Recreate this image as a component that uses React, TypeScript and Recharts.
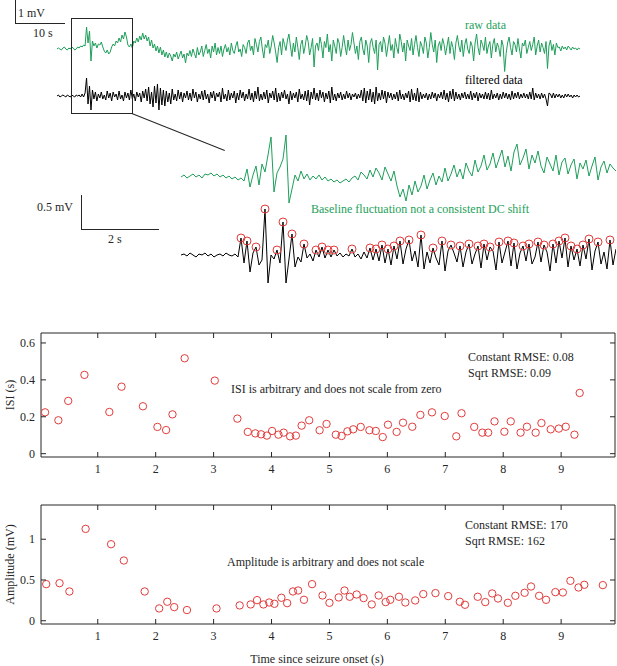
import React from "react";
import {
  ComposedChart,
  Line,
  ReferenceArea,
  Scatter,
  ScatterChart,
  XAxis,
  YAxis,
} from "recharts";

const FONT = "'Liberation Serif', 'Times New Roman', serif";
const INK = "#262626";
const GREEN = "#1e9f5a";
const RED = "#e23c3c";

// whole recording, one sample every 0.3 s, values in µV
const overviewStep = 0.3;
const rawOverview = [
  0, 50, 0, -50, 50, 100, 0, -50, 50, 0, 100, 50, -50, 0, 100, 50, 150, 100, 200, 150,
  1100, 300, 900, -600, 400, 150, 300, 50, 250, 200,
  350, 100, -100, -200, -50, -250, -150, 100, 250, 150,
  400, 300, 550, 350, 700, 500, 850, 600, 200, 100,
  250, 50, 400, 300, 550, 350, 650, 450, 800, 500,
  700, 400, 600, 150, 450, 50, 250, -100, 150, -200,
  100, -300, -50, -400, -150, -450, -200, -350, -600, -250,
  -400, -150, -500, -300, -100, -450, -250, -700, -200, -350,
  -75, -375, 0, -225, -450, 75, -300, -150, 150, -375,
  -75, 225, -225, 0, -450, 150, -150, 300, -300, 75,
  -225, 150, -375, 0, 225, -150, 75, -300, 300, -75,
  -225, 150, 375, -150, 0, -375, 225, 75, -225, 300,
  450, -75, 150, -300, 525, 225, -150, 375, 600, 0,
  -450, 225, 75, 450, -225, 150, 675, 300, -150, -675,
  75, 375, -300, 525, 225, -75, 450, 750, 150, -375,
  300, -150, 600, 75, -525, 225, 450, -225, 150, 675,
  375, -300, 75, 525, -900, 150, 300, -75, 600, 225,
  -450, 375, 75, 750, -150, 225, -600, 450, 150, -225,
  525, 300, -375, 75, 675, 150, -300, 450, -75, 225,
  825, 300, -225, 150, -525, 375, 600, 0, -300, 450,
  150, -675, 300, 525, 75, -225, 450, -1050, 225, 375,
  -150, 600, 300, -375, 150, 675, -75, 225, -450, 525,
  75, -225, 750, 375, -150, 300, -600, 450, 150, -75,
  525, -300, 225, 675, 75, -375, 375, 150, -225, 600,
  300, -450, 75, 825, 225, -150, 450, -675, 150, 375,
  -75, 525, 225, -300, 150, 600, -225, 375, 75, -525,
  300, 675, 150, -150, 450, -375, 225, 525, 0, -225,
  375, 150, -600, 300, 750, 75, -300, 450, 225, -75,
  600, -225, 150, 375, -450, 225, 525, -150, 300, 75,
  -375, 450, 150, -1125, -225, 300, 600, 75, -300, 375,
  225, -150, 525, 0, -450, 300, 150, 450, -225, 75,
  375, -75, 225, 600, -300, 150, 450, -150, 300, 75,
  -225, 375, -975, 150, 450, -75, 225, -300, 300, 75,
  100, -100, 150, 0, 100, -50, 150, 50, -50, 100,
  0, 50, -50, 50, 0,
];
const filteredOverview = [
  0, 50, -50, 0, 50, 0, -50, 50, 0, -50, 50, 0, -50, 50, 0, 50, -50, 100, -50, 150,
  900, -400, 500, -700, 300, -150, 200, -250, 100, -100,
  200, -150, 50, -200, 250, -100, 150, -250, 200, -50,
  100, -200, 250, -150, 50, -250, 200, -100, 150, -200,
  300, -150, 100, -250, 200, -50, 150, -300, 250, -100,
  350, -250, 450, -400, 200, -550, 500, -350, 600, -700,
  400, -450, 300, -500, 250, -300, 150, -400, 350, -200,
  100, -250, 300, -150, 200, -300, 150, -100, 250, -200,
  150, -250, 350, -100, 200, -300, 100, -150, 250, -200,
  300, -150, 100, -350, 200, -100, 250, -250, 150, -50,
  200, -300, 400, -150, 100, -250, 300, -200, 150, -100,
  250, -350, 150, -200, 300, -100, 200, -250, 100, -150,
  350, -200, 150, -300, 250, -150, 450, -250, 100, -200,
  200, -150, 300, -350, 150, -100, 250, -200, 400, -300,
  150, -250, 200, -100, 300, -150, 100, -400, 250, -200,
  150, -100, 200, -300, 350, -150, 100, -200, 250, -250,
  300, -450, 200, -150, 400, -200, 150, -250, 300, -100,
  200, -300, 150, -150, 250, -350, 450, -200, 100, -250,
  150, -100, 200, -200, 100, -150, 250, -100, 150, -200,
  100, -50, 150, -150, 100, -100, 300, -250, 400, -350,
  250, -200, 350, -300, 200, -400, 450, -250, 150, -200,
  300, -150, 250, -350, 200, -100, 150, -200, 100, -150,
  200, -250, 300, -150, 100, -200, 150, -100, 250, -300,
  350, -200, 150, -250, 400, -300, 200, -150, 100, -100,
  150, -200, 100, -150, 200, -100, 150, -250, 100, -100,
  200, -150, 300, -200, 150, -300, 250, -150, 350, -250,
  200, -150, 100, -200, 150, -100, 200, -150, 100, -150,
  250, -200, 150, -100, 200, -250, 150, -100, 100, -150,
  200, -150, 150, -200, 300, -150, 100, -100, 150, -200,
  100, -150, 200, -100, 150, -150, 100, -200, 250, -150,
  150, -100, 200, -150, 100, -100, 150, -100, 100, -150,
  200, -150, 400, -200, 150, -100, 100, -150, 150, -100,
  100, -150, -500, 150, 100, -100, 150, -100, 100, -50,
  100, -100, 50, -100, 100, -50, 100, -50, 50, -100,
  50, -50, 50, -50, 0,
];

// zoomed window, one sample every 0.078 s, values in µV
const zoomStep = 0.078;
const rawZoom = [
  0, 30, -15, 15, 45, 0, 30, -15, 45, 30, 60, 15, 45, 0, 30, -15, 15, -30, 0, -45, -15, -60,
  120, -150, 30, 165, -120, 195, 75, 330, 600, -225, 60, 150, 270, 630, -390, -180,
  30, -60, 90, -30, 45, -45, 15, -30, 30, -45, 0, -60, -30, -75, -45, -90, -60, -30, -75, -15,
  15, -45, 75, 30, -30, 105, 0, 135, 60, -45, 150, 45, -60, 90, -135,
  -300, -180, -360, -120, -270,
  -60, -225, -135, 30, -180, -45, 60, -120, 15, -75,
  135, -60, 45, 180, 0, 120, -30, 210, 90, 15, 255, 75, 165, 330, 105, 195,
  360, 135, 270, 405, 150, 315, 90, 375, 495, 180, 285, 420, 120, 330, 210, 390, 165,
  60, 300, 195, 90, 330, 30, 225, 285, 45, 180, 270, -30, 210, 120, 255, 15, 165, 300, -45, 150,
  240, 60, 195, 135, 90,
];
const filteredZoom = [
  0, 15, -15, 30, 0, -30, 15, 0, 30, -15, 15, -30, 0, 15, -15, 30, 0, -15, 15, -30,
  255, -120, 210, -255, 30, 120, -150, -75, 690, -420, 0, -60, 75, -120, 495, -420, -60, 315, -180, -30,
  -105, 165, -45, 15, -90, 75, -30, 120, -45, 75, -30, 75, -15, 30, -30, 15, -15, 90, -30, 15,
  -60, 45, -45, 105, -75, 90, -90, 150, -120, 90, -150, 135, -60,
  210, -135, 90, 225, -90, 60, -180, 300, -210, 45, -120, 105, -45, -150, 210, -240, 60, 150, 30, -105,
  135, -180, 45, 165, -135, 15, 135, -195, 165, -75, 120, 60, -225, 195, -120, 45, 210, -165, 180, -210,
  30, 135, -90, 165, -135, -30, 195, -105, 150, 45, -240, 165, -120, 210, -45, 255, -180, 135, -75, 90,
  -165, 150, -60, 240, -225, 60, 195, -135, 45, -210, 225, -150, 90,
];
const spikeThreshold = 75; // µV, local maxima above this are marked

// detected spikes (s since onset)
const isiTimes = [
  0.09, 0.32, 0.49, 0.77, 1.2, 1.41, 1.78, 2.03, 2.18, 2.29, 2.5, 3.02, 3.41, 3.59, 3.72, 3.82, 3.92, 4.01,
  4.12, 4.21, 4.32, 4.42, 4.52, 4.65, 4.83, 4.95, 5.11, 5.21, 5.31, 5.41, 5.54, 5.69, 5.8, 5.92, 6.01, 6.16,
  6.27, 6.43, 6.57, 6.77, 6.99, 7.19, 7.28, 7.5, 7.64, 7.74, 7.85, 8.02, 8.13, 8.3, 8.41, 8.56, 8.66, 8.82,
  8.96, 9.08, 9.23, 9.32,
];
const isiValues = [
  0.224, 0.181, 0.286, 0.427, 0.226, 0.363, 0.257, 0.145, 0.128, 0.213, 0.517, 0.396, 0.19, 0.118, 0.11,
  0.105, 0.098, 0.123, 0.103, 0.114, 0.094, 0.098, 0.152, 0.181, 0.127, 0.161, 0.103, 0.096, 0.121, 0.132,
  0.145, 0.127, 0.123, 0.09, 0.157, 0.118, 0.168, 0.146, 0.21, 0.224, 0.204, 0.094, 0.219, 0.145, 0.114,
  0.114, 0.175, 0.119, 0.175, 0.114, 0.146, 0.114, 0.166, 0.132, 0.136, 0.146, 0.103, 0.329,
];
const ampTimes = [
  0.11, 0.34, 0.51, 0.79, 1.23, 1.45, 1.81, 2.06, 2.2, 2.32, 2.54, 3.05, 3.45, 3.64, 3.75, 3.86, 3.96, 4.05,
  4.17, 4.27, 4.37, 4.46, 4.56, 4.7, 4.88, 5.0, 5.16, 5.26, 5.35, 5.47, 5.59, 5.73, 5.85, 5.97, 6.05, 6.2,
  6.31, 6.48, 6.62, 6.83, 7.05, 7.25, 7.34, 7.56, 7.69, 7.81, 7.91, 8.08, 8.21, 8.37, 8.48, 8.62, 8.74, 8.9,
  9.03, 9.16, 9.3, 9.4, 9.72,
];
const ampValues = [
  0.449, 0.461, 0.359, 1.127, 0.939, 0.739, 0.359, 0.151, 0.233, 0.167, 0.131, 0.151, 0.188, 0.2, 0.253,
  0.2, 0.224, 0.208, 0.282, 0.216, 0.359, 0.371, 0.257, 0.449, 0.31, 0.22, 0.286, 0.371, 0.294, 0.322,
  0.278, 0.2, 0.31, 0.229, 0.257, 0.294, 0.224, 0.249, 0.327, 0.339, 0.302, 0.233, 0.196, 0.294, 0.229,
  0.335, 0.273, 0.22, 0.306, 0.343, 0.42, 0.306, 0.257, 0.351, 0.347, 0.49, 0.408, 0.441, 0.437,
];

const timeTicks = [1, 2, 3, 4, 5, 6, 7, 8, 9];
const timeDomain = [0.02, 9.93];
const isiTicks = [0, 0.2, 0.4, 0.6];
const isiDomain = [-0.018, 0.654];
const ampTicks = [0, 0.5, 1];
const ampDomain = [-0.04, 1.42];

const Note = ({ x, y, color = INK, size = 12, children }: any) => (
  <div
    style={{
      position: "absolute",
      left: x,
      top: y - 7,
      fontSize: size,
      lineHeight: "14px",
      color,
      whiteSpace: "nowrap",
      fontFamily: FONT,
    }}
  >
    {children}
  </div>
);

const ring = (r: number) => (p: any) =>
  <circle cx={p.cx} cy={p.cy} r={r} fill="none" stroke={RED} strokeWidth={1} />;
const nothing = () => <g />;

const Trace = ({ values, step, color, left, top, width, height, range, threshold }: any) => {
  const data = values.map((v: number, i: number) => ({ t: i * step, v }));
  const peaks =
    threshold === undefined
      ? []
      : data.filter(
          (d: any, i: number) =>
            i > 0 && i < data.length - 1 && d.v >= threshold && d.v > data[i - 1].v && d.v >= data[i + 1].v
        );
  return (
    <div style={{ position: "absolute", left, top }}>
      <ComposedChart width={width} height={height} data={data} margin={{ top: 0, right: 0, bottom: 0, left: 0 }}>
        <XAxis dataKey="t" type="number" domain={[0, (values.length - 1) * step]} hide />
        <YAxis type="number" domain={[-range, range]} hide allowDataOverflow />
        <Line
          dataKey="v"
          type="linear"
          stroke={color}
          strokeWidth={1}
          dot={false}
          isAnimationActive={false}
        />
        {threshold !== undefined && (
          <Scatter data={peaks} dataKey="v" shape={ring(4)} isAnimationActive={false} />
        )}
      </ComposedChart>
    </div>
  );
};

const bottomTick = (p: any) => (
  <g>
    <line x1={p.x} y1={p.y} x2={p.x} y2={p.y - 5} stroke={INK} />
    <text x={p.x} y={p.y + 16} textAnchor="middle" fill={INK} fontSize={12} fontFamily={FONT}>
      {p.payload.value}
    </text>
  </g>
);
const topTick = (p: any) => <line x1={p.x} y1={p.y} x2={p.x} y2={p.y + 5} stroke={INK} />;
const leftTick = (p: any) => (
  <g>
    <line x1={p.x} y1={p.y} x2={p.x + 5} y2={p.y} stroke={INK} />
    <text x={p.x - 6} y={p.y + 4} textAnchor="end" fill={INK} fontSize={12} fontFamily={FONT}>
      {p.payload.value}
    </text>
  </g>
);
const rightTick = (p: any) => <line x1={p.x} y1={p.y} x2={p.x - 5} y2={p.y} stroke={INK} />;

const yTitle = (text: string) => (p: any) => {
  const vb = p.viewBox;
  const cx = vb.x + 10;
  const cy = vb.y + vb.height / 2;
  return (
    <text
      x={cx}
      y={cy}
      transform={`rotate(-90 ${cx} ${cy})`}
      textAnchor="middle"
      dominantBaseline="central"
      fill={INK}
      fontSize={12}
      fontFamily={FONT}
    >
      {text}
    </text>
  );
};

const SpikePanel = ({ top, height, marginTop, xAxisHeight, times, values, domain, ticks, yLabel, xLabel }: any) => {
  const points = times.map((t: number, i: number) => ({ x: t, y: values[i] }));
  const axisProps = { tickLine: false, tickSize: 0, tickMargin: 0, allowDataOverflow: true };
  return (
    <div style={{ position: "absolute", left: 0, top }}>
      <ScatterChart width={617} height={height} margin={{ top: marginTop - 1, right: 1, bottom: 0, left: 0 }}>
        <XAxis
          {...axisProps}
          axisLine={false}
          dataKey="x"
          type="number"
          domain={timeDomain}
          ticks={timeTicks}
          height={xAxisHeight}
          tick={bottomTick}
          label={
            xLabel
              ? {
                  content: (p: any) => (
                    <text
                      x={p.viewBox.x + p.viewBox.width / 2 - 11}
                      y={p.viewBox.y + 39}
                      textAnchor="middle"
                      fill={INK}
                      fontSize={12}
                      fontFamily={FONT}
                    >
                      {xLabel}
                    </text>
                  ),
                }
              : undefined
          }
        />
        <XAxis
          {...axisProps}
          axisLine={false}
          xAxisId="top"
          orientation="top"
          dataKey="x"
          type="number"
          domain={timeDomain}
          ticks={timeTicks}
          height={1}
          tick={topTick}
        />
        <YAxis
          {...axisProps}
          axisLine={false}
          dataKey="y"
          type="number"
          domain={domain}
          ticks={ticks}
          width={41}
          tick={leftTick}
          label={{ content: yTitle(yLabel) }}
        />
        <YAxis
          {...axisProps}
          axisLine={false}
          yAxisId="right"
          orientation="right"
          dataKey="y"
          type="number"
          domain={domain}
          ticks={ticks}
          width={1}
          tick={rightTick}
        />
        <ReferenceArea
          x1={timeDomain[0]}
          x2={timeDomain[1]}
          y1={domain[0]}
          y2={domain[1]}
          fill="none"
          stroke={INK}
          strokeWidth={1}
          ifOverflow="visible"
        />
        <Scatter data={points} shape={ring(3.7)} isAnimationActive={false} />
        <Scatter data={points} xAxisId="top" yAxisId="right" shape={nothing} isAnimationActive={false} />
      </ScatterChart>
    </div>
  );
};

export default function App() {
  return (
    <div
      style={{
        position: "absolute",
        left: 0,
        top: 0,
        width: 617,
        height: 666,
        background: "#fff",
        overflow: "hidden",
        fontFamily: FONT,
      }}
    >
      {/* overview scale bar */}
      <div style={{ position: "absolute", left: 15, top: 0, width: 49, height: 23, borderLeft: `1.5px solid ${INK}`, borderBottom: `1.5px solid ${INK}` }} />
      <Note x={18} y={13}>1 mV</Note>
      <Note x={33} y={33}>10 s</Note>

      <Trace values={rawOverview} step={overviewStep} color={GREEN} left={57} top={9} width={523} height={80} range={2000} />
      <Trace values={filteredOverview} step={overviewStep} color="#000" left={57} top={56} width={523} height={80} range={2000} />
      <Note x={465} y={25} color={GREEN}>raw data</Note>
      <Note x={465} y={80} color="#000">filtered data</Note>

      {/* zoom box and connector */}
      <div style={{ position: "absolute", left: 71, top: 18, width: 60, height: 94, border: `1.5px solid ${INK}` }} />
      <div
        style={{
          position: "absolute",
          left: 132,
          top: 113,
          width: 100,
          height: 0,
          borderTop: `1.5px solid ${INK}`,
          transform: "rotate(21.7deg)",
          transformOrigin: "0 0",
        }}
      />

      {/* zoom scale bar */}
      <div style={{ position: "absolute", left: 81, top: 195, width: 77, height: 34, borderLeft: `1.5px solid ${INK}`, borderBottom: `1.5px solid ${INK}` }} />
      <Note x={37} y={207}>0.5 mV</Note>
      <Note x={108} y={239}>2 s</Note>

      <Trace values={rawZoom} step={zoomStep} color={GREEN} left={181} top={117} width={435} height={120} range={900} />
      <Trace values={filteredZoom} step={zoomStep} color="#000" left={181} top={195} width={435} height={120} range={900} threshold={spikeThreshold} />
      <Note x={311} y={209} color={GREEN}>Baseline fluctuation not a consistent DC shift</Note>

      <SpikePanel
        top={320}
        height={160}
        marginTop={13}
        xAxisHeight={23}
        times={isiTimes}
        values={isiValues}
        domain={isiDomain}
        ticks={isiTicks}
        yLabel="ISI (s)"
      />
      <Note x={468} y={357}>Constant RMSE: 0.08</Note>
      <Note x={468} y={373}>Sqrt RMSE: 0.09</Note>
      <Note x={231} y={389}>ISI is arbitrary and does not scale from zero</Note>

      <SpikePanel
        top={490}
        height={176}
        marginTop={15}
        xAxisHeight={42}
        times={ampTimes}
        values={ampValues}
        domain={ampDomain}
        ticks={ampTicks}
        yLabel="Amplitude (mV)"
        xLabel="Time since seizure onset (s)"
      />
      <Note x={465} y={525}>Constant RMSE: 170</Note>
      <Note x={465} y={541}>Sqrt RMSE: 162</Note>
      <Note x={227} y={562}>Amplitude is arbitrary and does not scale</Note>
    </div>
  );
}
